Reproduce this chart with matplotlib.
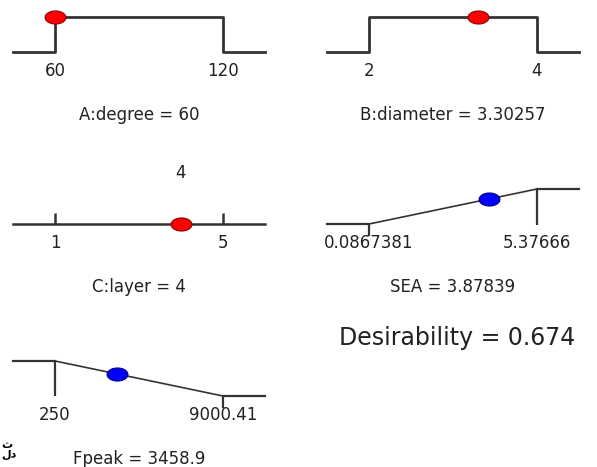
import numpy as np
import matplotlib
matplotlib.use('Agg')
import matplotlib.pyplot as plt

plt.rcParams['font.family'] = ['DejaVu Sans']

# factors (in range goal)
factor_names = ['A:degree', 'B:diameter', 'C:layer']
factor_lows = [60, 2, 1]
factor_highs = [120, 4, 5]
factor_values = [60, 3.30257, 4]

# responses
resp_names = ['SEA', 'Fpeak']
resp_lows = [0.0867381, 250]
resp_highs = [5.37666, 9000.41]
resp_values = [3.87839, 3458.9]
resp_goals = ['maximize', 'minimize']

desirability = 0.674

W, H = 597, 467
fig = plt.figure(figsize=(W / 100, H / 100), dpi=100)

line_col = '#333333'
text_col = '#222222'
unit = 35.0  # px per desirability unit

t = np.linspace(0, 2 * np.pi, 60)
ellipse = np.column_stack([1.6 * np.cos(t), np.sin(t)])


def add_panel(x0, x1, y0, lo, hi):
    top, bottom = y0 - 45, y0 + 75
    ax = fig.add_axes([x0 / W, 1 - bottom / H, (x1 - x0) / W, (bottom - top) / H])
    ax.set_ylim(-75 / unit, 45 / unit)
    span = hi - lo
    ax.set_xlim(lo - 0.25 * span, hi + 0.25 * span)
    ax.axis('off')
    return ax


def labels(ax, lo, hi, title):
    for v in (lo, hi):
        ax.text(v, -19 / unit, '{:g}'.format(v), ha='center', va='center',
                fontsize=12, color=text_col)
    ax.text((lo + hi) / 2, -63 / unit, title, ha='center', va='center',
            fontsize=12, color=text_col)


def dot(ax, x, d, face, edge):
    ax.plot([x], [d], marker=ellipse, markersize=15, color=face,
            markeredgecolor=edge, markeredgewidth=0.8, linestyle='none',
            zorder=5, clip_on=False)


# panel positions: (x0, x1, y of d=0)
factor_pos = [(13, 265, 52), (327, 579, 52), (13, 265, 224)]
resp_pos = [(327, 579, 224), (13, 265, 396)]

for i in range(3):
    lo, hi, v = factor_lows[i], factor_highs[i], factor_values[i]
    x0, x1, y0 = factor_pos[i]
    ax = add_panel(x0, x1, y0, lo, hi)
    xmin, xmax = ax.get_xlim()
    if i < 2:
        ax.plot([xmin, lo, lo, hi, hi, xmax], [0, 0, 1, 1, 0, 0],
                color=line_col, lw=2, clip_on=False)
        dot(ax, v, 1, 'red', '#8b0000')
    else:
        ax.plot([xmin, xmax], [0, 0], color=line_col, lw=1.8, clip_on=False)
        ax.vlines([lo, hi], 0, 11 / unit, color=line_col, lw=1.8)
        ax.text(v, 51 / unit, '{:g}'.format(v), ha='center', va='center',
                fontsize=12, color=text_col)
        dot(ax, v, 0, 'red', '#8b0000')
    labels(ax, lo, hi, '{} = {:g}'.format(factor_names[i], v))

for i in range(2):
    lo, hi, v = resp_lows[i], resp_highs[i], resp_values[i]
    x0, x1, y0 = resp_pos[i]
    ax = add_panel(x0, x1, y0, lo, hi)
    xmin, xmax = ax.get_xlim()
    if resp_goals[i] == 'maximize':
        ax.plot([xmin, lo], [0, 0], color=line_col, lw=1.6, clip_on=False)
        ax.plot([lo, hi], [0, 1], color=line_col, lw=1.2)
        ax.plot([hi, xmax], [1, 1], color=line_col, lw=1.6, clip_on=False)
        ax.vlines(hi, -1 / unit, 1, color=line_col, lw=1.6)
        ax.vlines(lo, -12 / unit, 0, color=line_col, lw=1.6)
        d = (v - lo) / (hi - lo)
    else:
        ax.plot([xmin, lo], [1, 1], color=line_col, lw=1.6, clip_on=False)
        ax.plot([lo, hi], [1, 0], color=line_col, lw=1.2)
        ax.plot([hi, xmax], [0, 0], color=line_col, lw=1.6, clip_on=False)
        ax.vlines(lo, 0, 1, color=line_col, lw=1.6)
        ax.vlines(hi, -12 / unit, 0, color=line_col, lw=1.6)
        d = (hi - v) / (hi - lo)
    dot(ax, v, d, 'blue', '#000080')
    labels(ax, lo, hi, '{} = {:g}'.format(resp_names[i], v))

fig.text(457 / W, 1 - 338 / H, 'Desirability = {:g}'.format(desirability),
         ha='center', va='center', fontsize=17, color=text_col)

# small fragment of caption text at the lower-left edge
fig.text(1 / W, 1 - 450 / H, 'ث\nلد', ha='left', va='center', fontsize=8,
         fontweight='bold', color='black', linespacing=0.9)

fig.savefig('out.png', dpi=100)
